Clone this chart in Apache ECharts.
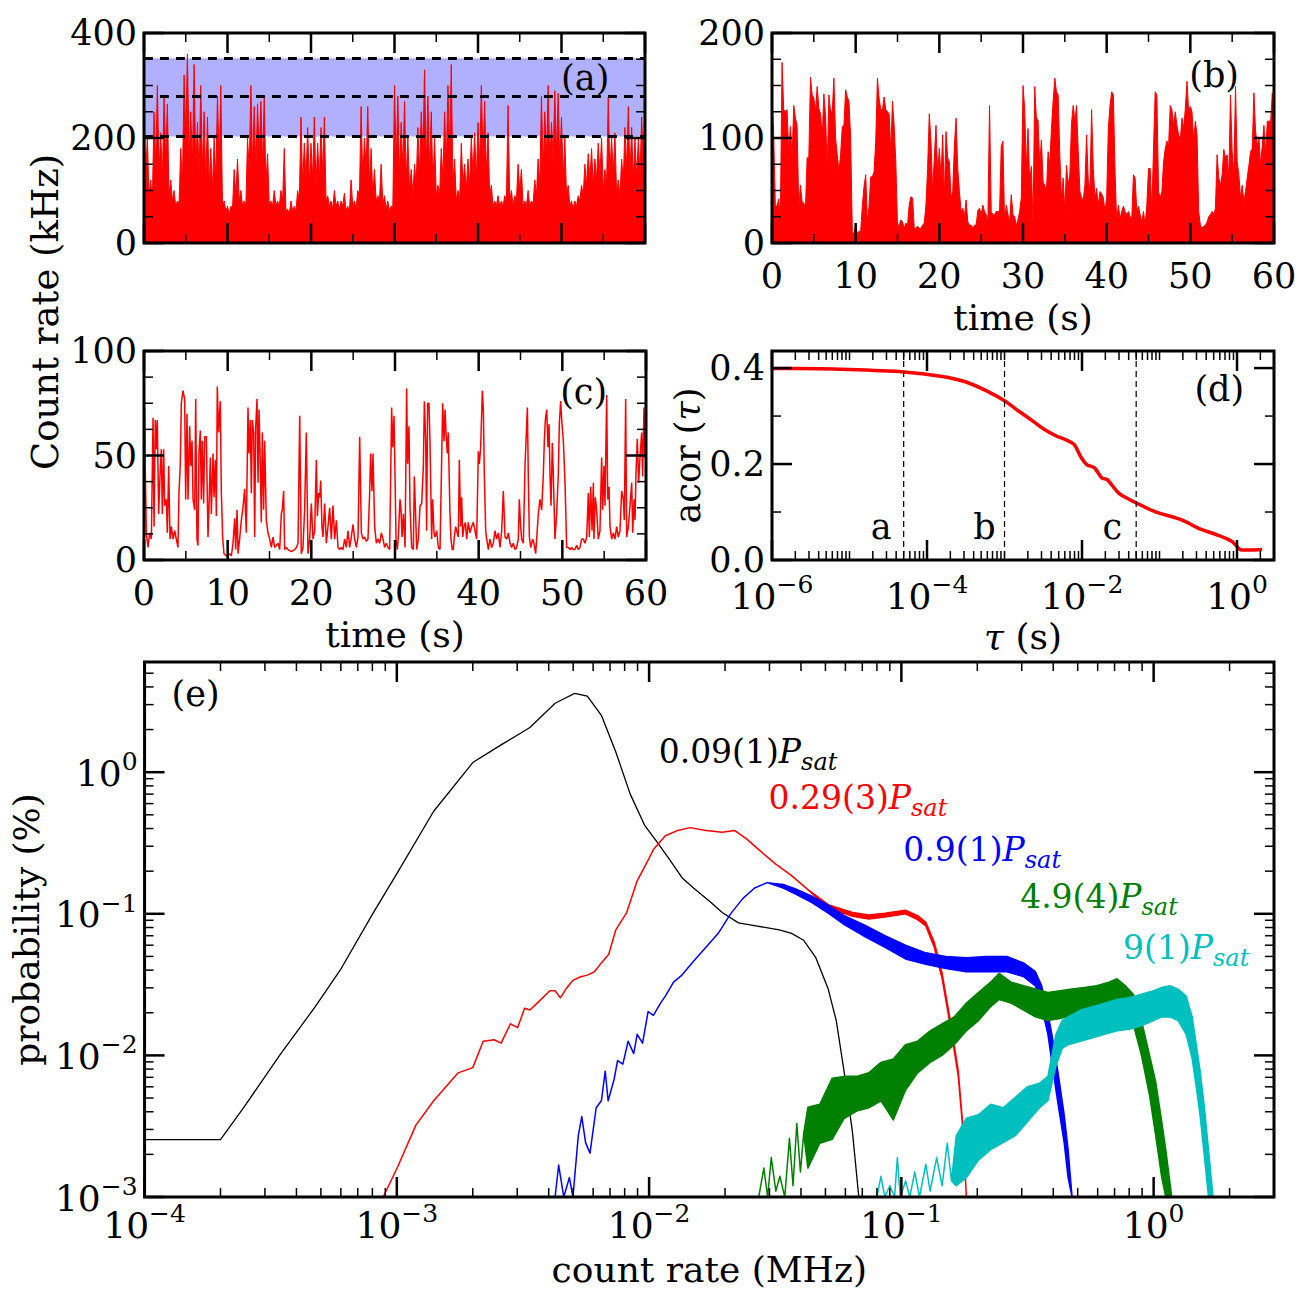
<!DOCTYPE html>
<html><head><meta charset="utf-8">
<script src="https://cdn.jsdelivr.net/npm/echarts@6/dist/echarts.min.js"></script>
<style>html,body{margin:0;padding:0;background:#fff}#c{width:1300px;height:1300px}</style>
</head><body><div id="c"></div>
<script>
const FONT = 'DejaVu Serif';

// ---------- panel (a): count rate; peaks every 0.4 s, troughs in between ----------
const aStep = 0.4;
const aRate = [
280,200,120,250,300,210,280,265,120,100,
80,180,320,360,250,340,230,300,250,240,
180,200,280,300,80,70,70,140,160,100,
80,200,300,260,265,270,280,170,80,100,
80,100,180,65,80,70,100,240,190,220,
190,240,190,220,240,90,80,100,80,80,
95,70,120,80,100,260,200,260,180,140,
90,150,90,80,70,300,280,230,270,200,
140,150,220,250,330,280,250,200,110,180,
250,300,340,160,100,190,150,160,200,210,
230,300,270,210,110,80,90,80,90,262,
100,90,150,140,80,100,80,120,160,280,
250,300,230,290,285,240,200,110,80,80,
90,110,150,170,180,160,190,200,140,278,
200,210,120,160,220,260,220,200,200,240,
270];
const aTrough = [
130,90,80,150,140,120,160,90,80,70,
75,110,200,160,150,140,130,140,120,110,
100,120,150,70,60,55,65,90,80,70,
70,140,150,140,160,150,110,70,70,70,
70,80,60,55,60,60,80,110,120,110,
120,110,120,130,80,70,65,70,65,70,
60,60,70,65,90,120,140,110,90,80,
80,75,65,60,70,150,130,140,120,100,
90,110,130,170,150,140,110,90,90,120,
150,170,110,80,80,110,100,110,130,120,
150,160,130,90,70,70,70,70,80,80,
70,80,100,70,70,70,75,90,110,140,
160,150,160,170,150,120,90,70,65,70,
80,90,110,120,110,120,130,100,110,130,
130,90,90,120,140,130,120,120,130,150];
const aBand = [203, 352];
const aLevels = [203, 280, 352];

// ---------- panel (b): count rate, 0.2 s steps ----------
const bStep = 0.2;
const bRate = [
138,103,36,35,42,23,172,127,125,127,
87,111,81,131,119,112,33,55,39,38,
33,81,82,158,141,138,125,149,128,123,
100,142,122,68,141,125,125,157,100,84,
68,84,111,112,146,139,135,100,11,8,
17,9,11,11,36,54,65,20,35,63,
63,68,97,157,138,127,127,139,127,125,
123,87,135,112,77,17,17,22,20,14,
19,17,36,44,43,14,14,16,14,14,
17,19,36,71,123,97,49,81,112,65,
90,62,103,43,106,81,77,43,49,93,
119,71,49,30,33,25,41,20,17,17,
14,17,17,31,33,27,36,30,27,20,
131,30,27,27,30,30,30,92,97,20,
36,27,20,46,27,25,17,22,30,43,
150,128,71,109,58,73,17,149,119,117,
74,98,58,55,49,87,74,109,135,157,
144,141,84,43,62,30,74,55,65,114,
131,116,131,87,49,43,41,55,103,60,
49,127,71,43,52,36,49,47,43,30,
43,109,131,144,141,68,20,36,23,30,
35,30,27,30,25,23,65,62,30,35,
27,20,30,17,36,71,71,30,90,144,
141,49,43,49,77,90,97,93,131,127,
112,125,112,103,98,119,109,128,154,125,
130,125,97,116,103,30,17,14,16,17,
20,25,27,30,27,33,84,62,55,65,
89,81,84,62,141,87,65,149,77,65,
43,55,39,49,62,74,87,90,143,106,
93,100,74,93,112,84,116,116,116,143,
116];

// ---------- panel (c): [time s, rate kHz] ----------
const cTrace = [
[0.08,73],[0.16,41],[0.28,13],[0.48,6],[0.68,13],[0.88,10],[1.08,68],[1.2,16],[1.35,67],[1.47,53],[1.59,67],[1.75,22],[1.91,40],[2.07,53],[2.19,22],[2.35,53],[2.47,26],[2.67,29],[2.79,13],[2.95,45],[3.11,10],[3.27,16],[3.47,10],[3.67,14],[3.86,10],[4.06,6],[4.18,32],[4.34,46],[4.46,75],[4.66,81],[4.86,77],[4.98,29],[5.14,70],[5.26,29],[5.46,64],[5.58,45],[5.74,57],[5.86,29],[6.06,24],[6.18,77],[6.33,10],[6.45,7],[6.57,51],[6.73,62],[6.85,29],[6.97,57],[7.13,27],[7.25,59],[7.45,59],[7.65,11],[7.77,26],[7.93,49],[8.05,22],[8.25,51],[8.37,30],[8.53,48],[8.65,21],[8.76,83],[8.92,61],[9.12,76],[9.24,33],[9.4,11],[9.56,3],[9.84,2],[10.04,2],[10.24,3],[10.44,2],[10.64,8],[10.84,20],[10.96,5],[11.12,24],[11.24,3],[11.43,10],[11.63,19],[11.83,25],[12.03,34],[12.23,13],[12.43,73],[12.55,51],[12.71,67],[12.83,32],[12.95,67],[13.11,61],[13.23,11],[13.35,64],[13.51,77],[13.63,37],[13.75,72],[13.9,46],[14.02,18],[14.14,61],[14.3,24],[14.42,57],[14.62,19],[14.82,13],[15.02,10],[15.22,6],[15.42,11],[15.62,6],[16.02,8],[16.22,5],[16.41,22],[16.53,24],[16.69,33],[16.81,5],[17.01,6],[17.21,5],[17.61,4],[18.01,5],[18.21,6],[18.41,8],[18.61,69],[18.8,3],[19.0,6],[19.2,24],[19.4,61],[19.6,3],[19.8,10],[20.0,27],[20.2,10],[20.4,14],[20.6,48],[20.72,21],[20.88,32],[21.0,30],[21.12,38],[21.27,16],[21.39,11],[21.59,27],[21.79,8],[21.99,16],[22.19,25],[22.39,10],[22.59,26],[22.79,10],[22.99,19],[23.19,6],[23.39,5],[23.59,6],[23.78,5],[23.98,10],[24.18,6],[24.38,14],[24.58,6],[24.78,11],[24.98,17],[25.18,10],[25.38,6],[25.58,11],[25.78,59],[25.98,13],[26.18,10],[26.37,11],[26.57,9],[26.77,10],[26.97,32],[27.09,51],[27.25,33],[27.37,51],[27.57,16],[27.77,8],[27.97,10],[28.17,8],[28.37,13],[28.57,10],[28.76,6],[28.96,8],[29.16,6],[29.36,5],
[29.6,73],[29.72,54],[29.88,69],[30.0,41],[30.12,10],[30.28,5],[30.4,11],[30.6,29],[30.72,24],[30.84,11],[31.0,22],[31.2,6],[31.39,82],[31.51,46],[31.67,64],[31.79,26],[31.99,6],[32.19,5],[32.31,40],[32.47,21],[32.59,5],[32.79,10],[32.99,26],[33.19,27],[33.39,45],[33.51,76],[33.67,57],[33.78,14],[33.9,75],[34.06,75],[34.18,57],[34.38,10],[34.5,29],[34.66,13],[34.78,11],[34.98,14],[35.18,6],[35.38,5],[35.58,49],[35.7,75],[35.86,57],[35.98,72],[36.1,61],[36.25,51],[36.37,61],[36.57,22],[36.69,10],[36.85,5],[36.97,5],[37.09,11],[37.25,16],[37.37,14],[37.57,11],[37.69,48],[37.85,16],[37.97,30],[38.09,11],[38.25,16],[38.41,18],[38.57,10],[38.76,18],[38.96,13],[39.16,16],[39.36,18],[39.56,14],[39.76,10],[39.96,52],[40.08,46],[40.24,54],[40.44,81],[40.56,72],[40.68,40],[40.84,14],[40.96,10],[41.16,5],[41.35,10],[41.55,6],[41.75,8],[41.95,14],[42.15,10],[42.35,13],[42.55,6],[42.75,14],[42.95,33],[43.15,11],[43.35,10],[43.55,13],[43.75,8],[43.94,6],[44.14,8],[44.34,5],[44.54,6],[44.74,10],[44.86,29],[45.02,16],[45.14,10],[45.34,8],[45.54,45],[45.66,57],[45.82,73],[45.94,38],[46.06,11],[46.22,6],[46.45,10],[46.61,8],[46.81,3],[46.93,10],[47.13,22],[47.33,29],[47.53,24],[47.73,41],[47.85,57],[47.97,67],[48.13,72],[48.29,54],[48.41,65],[48.53,40],[48.65,26],[48.8,56],[48.92,41],[49.12,10],[49.32,22],[49.52,41],[49.64,65],[49.8,76],[49.96,65],[50.12,57],[50.32,37],[50.52,6],[50.72,6],[50.92,5],[51.12,6],[51.31,5],[51.51,5],[51.71,7],[51.91,5],[52.11,6],[52.31,10],[52.51,10],[52.71,8],[52.91,11],[53.11,32],[53.23,11],[53.39,35],[53.55,14],[53.71,37],[53.78,10],[53.94,30],[54.1,24],[54.3,10],[54.5,14],[54.7,49],[54.82,24],[54.98,45],[55.1,26],[55.3,79],[55.42,29],[55.58,35],[55.7,16],[55.9,10],[56.1,13],[56.29,10],[56.49,16],[56.69,11],[56.89,14],[57.09,33],[57.29,29],[57.41,19],[57.57,77],[57.69,11],[57.89,16],[58.09,26],[58.29,37],[58.41,13],[58.57,29],[58.69,19],[58.8,41],[58.96,58],[59.12,37],[59.28,49],[59.48,61],[59.6,40],[59.76,73],[59.88,49]];

// ---------- panel (d): autocorrelation ----------
const dTau  = [1e-6,1.9e-6,9.8e-6,5e-5,1.5e-4,3.2e-4,6.3e-4,1e-3,1.5e-3,2.3e-3,3.2e-3,4.6e-3,6.3e-3,7.9e-3,9.8e-3,1.15e-2,1.45e-2,1.8e-2,2.1e-2,2.95e-2,4.1e-2,5e-2,8.7e-2,0.19,0.32,0.56,0.87,1.15,1.5,2.1];
const dAcor = [0.399,0.399,0.397,0.392,0.383,0.371,0.350,0.332,0.311,0.290,0.273,0.259,0.250,0.241,0.213,0.199,0.192,0.171,0.168,0.140,0.126,0.119,0.101,0.084,0.066,0.052,0.038,0.021,0.021,0.022];
const dMarks = [5e-5, 1e-3, 5e-2];
const dMarkNames = ['a','b','c'];
const dMarkLabelPos = [[2.6e-5,0.067],[5.6e-4,0.067],[2.5e-2,0.067]];

// ---------- panel (e): histograms [MHz, upper %, (lower %)] ----------
const eBlack = [[1e-4,0.00254],[2.0e-4,0.00254],[2.47e-4,0.00427],[3.43e-4,0.0100],[4.75e-4,0.0221],[5.97e-4,0.0401],[8.01e-4,0.0995],[1.007e-3,0.196],[1.40e-3,0.530],[2.0e-3,1.17],[2.59e-3,1.56],[3.37e-3,2.07],[4.24e-3,3.07],[5.07e-3,3.60],[5.69e-3,3.44],[6.47e-3,2.52],[7.38e-3,1.39],[8.41e-3,0.703],[9.59e-3,0.423],[0.0108,0.318],[0.0121,0.239],[0.0135,0.180],[0.0150,0.152],[0.0175,0.121],[0.0195,0.102],[0.0226,0.0863],[0.0272,0.0815],[0.0328,0.0771],[0.0367,0.0728],[0.0410,0.0650],[0.0458,0.0490],[0.0513,0.0294],[0.0552,0.0176],[0.0594,0.00753],[0.0640,0.00287],[0.0678,0.001]];
const eRed = [[8.83e-4,0.001],[1.007e-3,0.00163],[1.19e-3,0.00322],[1.40e-3,0.00478],[1.75e-3,0.00753],[2.0e-3,0.0082],[2.20e-3,0.0126],[2.43e-3,0.0129],[2.59e-3,0.0122],[2.82e-3,0.0167],[3.01e-3,0.0157],[3.21e-3,0.0215],[3.37e-3,0.0209],[3.60e-3,0.0234],[4.04e-3,0.0286],[4.24e-3,0.0286],[4.45e-3,0.0255],[4.68e-3,0.0294],[4.99e-3,0.0339],[5.32e-3,0.0358],[5.69e-3,0.0369],[6.07e-3,0.0390],[6.47e-3,0.0450],[6.92e-3,0.0518],[7.38e-3,0.0771],[8.15e-3,0.102],[8.97e-3,0.171],[9.91e-3,0.239],[0.0104,0.284],[0.0116,0.356],[0.0130,0.388],[0.0145,0.406],[0.0168,0.388],[0.0195,0.377],[0.0218,0.388],[0.0244,0.337],[0.0272,0.284],[0.0316,0.226],[0.0367,0.186],[0.0426,0.148],[0.0513,0.116,0.110],[0.0640,0.102,0.096],[0.0743,0.098,0.092],[0.0861,0.101,0.095],[0.1038,0.106,0.100],[0.1160,0.097,0.091],[0.125,0.087,0.082],[0.135,0.063,0.058],[0.145,0.038,0.035],[0.156,0.018,0.0165],[0.168,0.0078,0.0072],[0.175,0.0033,0.0031],[0.181,0.001,0.001]];
const eBlue = [[4.24e-3,0.001],[4.38e-3,0.00168],[4.59e-3,0.001],[4.83e-3,0.00137],[4.99e-3,0.001],[5.24e-3,0.00271],[5.41e-3,0.0037],[5.60e-3,0.00242],[5.83e-3,0.00204],[6.17e-3,0.00427],[6.47e-3,0.00478],[6.70e-3,0.00774],[6.88e-3,0.00478],[7.26e-3,0.00673],[7.50e-3,0.0092],[7.87e-3,0.00868],[8.26e-3,0.0126],[8.69e-3,0.0103],[8.97e-3,0.0141],[9.42e-3,0.0122],[9.91e-3,0.0204],[0.0104,0.0192],[0.0111,0.0234],[0.0116,0.0262],[0.0125,0.0329],[0.0135,0.0369],[0.0150,0.0462],[0.0168,0.058],[0.0188,0.0728],[0.0210,0.0995],[0.0235,0.128],[0.0262,0.152],[0.0294,0.166],[0.0340,0.161,0.152],[0.0381,0.150,0.138],[0.0442,0.133,0.120],[0.0513,0.115,0.101],[0.0594,0.097,0.084],[0.0716,0.083,0.069],[0.0861,0.070,0.058],[0.1038,0.060,0.048],[0.125,0.053,0.044],[0.150,0.050,0.041],[0.181,0.049,0.039],[0.218,0.050,0.039],[0.262,0.050,0.039],[0.305,0.045,0.036],[0.340,0.039,0.031],[0.360,0.031,0.022],[0.381,0.0198,0.0141],[0.395,0.0141,0.00893],[0.418,0.00753,0.00452],[0.442,0.00381,0.00242],[0.458,0.00216,0.00137],[0.475,0.001,0.001]];
const eGreen = [[0.0272,0.001],[0.0285,0.0016],[0.0295,0.001],[0.0305,0.0019],[0.0318,0.0011],[0.033,0.0014],[0.0345,0.001],[0.036,0.0026],[0.0372,0.0012],[0.0385,0.0033],[0.0398,0.0015],[0.041,0.0028],[0.0426,0.0043,0.0016],[0.0475,0.00452,0.0024],[0.0532,0.00691,0.00256],[0.0594,0.00711,0.0036],[0.0665,0.00711,0.00404],[0.0743,0.00753,0.00427],[0.0830,0.00893,0.00478],[0.0929,0.00945,0.0035],[0.1038,0.0119,0.00567],[0.1160,0.0126,0.00753],[0.130,0.0149,0.00893],[0.145,0.0167,0.0100],[0.162,0.0187,0.0119],[0.181,0.0234,0.0149],[0.202,0.0278,0.0176],[0.226,0.0329,0.0221],[0.244,0.0379,0.0248],[0.272,0.0329,0.0234],[0.305,0.0311,0.0209],[0.340,0.0294,0.0187],[0.381,0.0278,0.0176],[0.426,0.0286,0.0182],[0.475,0.0294,0.0192],[0.532,0.0302,0.0198],[0.594,0.0311,0.0209],[0.665,0.0329,0.0221],[0.716,0.0348,0.0228],[0.771,0.0311,0.0209],[0.830,0.0270,0.0167],[0.895,0.0176,0.0100],[0.964,0.0100,0.0052],[1.019,0.0065,0.00271],[1.077,0.0034,0.00137],[1.117,0.00216,0.001],[1.18,0.001,0.001]];
const eCyan = [[0.0800,0.001],[0.083,0.0014],[0.086,0.001],[0.09,0.0012],[0.094,0.001],[0.0964,0.0019],[0.099,0.001],[0.104,0.0013],[0.108,0.001],[0.113,0.0015],[0.118,0.001],[0.125,0.0017],[0.13,0.0011],[0.138,0.0019],[0.145,0.0012],[0.152,0.0024],[0.158,0.0013],[0.165,0.0027,0.0012],[0.181,0.0036,0.00137],[0.202,0.00381,0.00182],[0.226,0.00452,0.00216],[0.253,0.00427,0.00242],[0.283,0.00506,0.00271],[0.316,0.0060,0.0034],[0.353,0.00635,0.00427],[0.381,0.00711,0.00478],[0.395,0.0100,0.00635],[0.410,0.0141,0.00844],[0.434,0.0176,0.0112],[0.458,0.0187,0.0119],[0.513,0.0209,0.0126],[0.573,0.0221,0.0133],[0.640,0.0234,0.0141],[0.716,0.0248,0.0149],[0.800,0.0255,0.0153],[0.895,0.0270,0.0162],[1.0,0.0286,0.0176],[1.077,0.0302,0.0187],[1.160,0.0311,0.0187],[1.250,0.0294,0.0176],[1.346,0.0262,0.0141],[1.422,0.0187,0.00945],[1.476,0.0119,0.0060],[1.532,0.00753,0.0036],[1.590,0.00427,0.00193],[1.650,0.00216,0.001],[1.72,0.001,0.001]];
const eLabelText = ['0.09(1)','0.29(3)','0.9(1)','4.9(4)','9(1)'];
const eLabelPos = [[0.01096,1.19],[0.0299,0.56],[0.1023,0.241],[0.297,0.112],[0.760,0.0489]];
const eColors = ['#000000','#ff0000','#0000ff','#008000','#00bfbf'];

// panel tags
const tagText = ['(a)','(b)','(c)','(d)','(e)'];
const tagPos = [[52.9,313],[52.9,160],[52.6,80],[0.6,0.356],[1.6e-4,3.53]];

// ticks
const linX = {maj:[0,10,20,30,40,50,60], min:[5,15,25,35,45,55]};
const aY = {maj:[0,200,400], min:[50,100,150,250,300,350]};
const bY = {maj:[0,100,200], min:[25,50,75,125,150,175]};
const cY = {maj:[0,50,100], min:[12.5,25,37.5,62.5,75,87.5]};
const dY = {maj:[0,0.2,0.4], min:[0.1,0.3]};
function logMinor(n0, n1, maxV, majors, ks) {
  const out = [];
  for (let n = n0; n <= n1; n++) for (const k of ks) {
    const v = +(k * Math.pow(10, n)).toPrecision(6);
    if (v <= maxV && !majors.some(m => Math.abs(m - v) / v < 1e-9)) out.push(v);
  }
  return out;
}
const dXmaj = [1e-6,1e-4,1e-2,1];
const dX = {maj:dXmaj, min:logMinor(-6,0,3,dXmaj,[1,2,3,4,5,6,7,8,9])};
const eXmaj = [1e-4,1e-3,1e-2,1e-1,1];
const eX = {maj:eXmaj, min:logMinor(-4,0,3,eXmaj,[2,3,4,5,6,7,8,9])};
const eYmaj = [1e-3,1e-2,1e-1,1];
const eY = {maj:eYmaj, min:logMinor(-3,0,6,eYmaj,[2,3,4,5,6,7,8,9])};

// ---------- helpers ----------
const chart = echarts.init(document.getElementById('c'), null, {renderer:'svg', width:1300, height:1300});
const TXT = {color:'#000', fontFamily:FONT, fontSize:35};
const hid = {axisLine:{show:false}, axisTick:{show:false}, splitLine:{show:false}, minorTick:{show:false}};
const supRich = {
  b:{fontFamily:FONT, fontSize:36, color:'#000', verticalAlign:'bottom', lineHeight:38},
  s:{fontFamily:FONT, fontSize:25, color:'#000', verticalAlign:'bottom', lineHeight:26, padding:[0,0,17,0]}
};
const noBorder = {textBorderWidth:0, textBorderColor:'transparent', textShadowBlur:0, opacity:1};
function powLab(step) {
  return function (v) {
    const l = Math.log10(v), e = Math.round(l);
    if (Math.abs(l - e) > 1e-6) return '';
    if (step === 2 && e % 2 !== 0) return '';
    return '{b|10}{s|' + (e < 0 ? '\u2212' : '') + Math.abs(e) + '}';
  };
}
function tickSeries(gi, X, Y, xRef, yRef) {
  const items = [{k:'f'}];
  X.maj.forEach(v => items.push({k:'x', v, L:20, w:2.5}));
  X.min.forEach(v => items.push({k:'x', v, L:9, w:1.5}));
  Y.maj.forEach(v => items.push({k:'y', v, L:20, w:2.5}));
  Y.min.forEach(v => items.push({k:'y', v, L:9, w:1.5}));
  return {
    type:'custom', xAxisIndex:gi, yAxisIndex:gi, z:20, silent:true, clip:false,
    data: items.map(it => it.k === 'x' ? [it.v, yRef] : it.k === 'y' ? [xRef, it.v] : [xRef, yRef]),
    renderItem(params, api) {
      const it = items[params.dataIndex];
      const cs = params.coordSys;
      if (it.k === 'f') return {type:'rect', shape:{x:cs.x, y:cs.y, width:cs.width, height:cs.height}, style:{stroke:'#000', fill:'none', lineWidth:3}};
      const p = api.coord([api.value(0), api.value(1)]);
      const st = {stroke:'#000', lineWidth:it.w};
      if (it.k === 'x') {
        const x = p[0], b = cs.y + cs.height;
        return {type:'group', children:[
          {type:'line', shape:{x1:x, y1:b, x2:x, y2:b - it.L}, style:st},
          {type:'line', shape:{x1:x, y1:cs.y, x2:x, y2:cs.y + it.L}, style:st}]};
      }
      const y = p[1], r = cs.x + cs.width;
      return {type:'group', children:[
        {type:'line', shape:{x1:cs.x, y1:y, x2:cs.x + it.L, y2:y}, style:st},
        {type:'line', shape:{x1:r, y1:y, x2:r - it.L, y2:y}, style:st}]};
    }
  };
}
function bandSeries(pts, color, lw, z) {
  const up = pts.map(p => [p[0], p[1]]);
  const lo = pts.map(p => [p[0], p.length > 2 ? p[2] : p[1]]);
  return {
    type:'custom', xAxisIndex:4, yAxisIndex:4, z, silent:true, clip:true,
    data: up,
    renderItem(params, api) {
      if (params.dataIndex !== 0) return null;
      const poly = up.map(d => api.coord(d)).concat(lo.slice().reverse().map(d => api.coord(d)));
      return {type:'polygon', shape:{points:poly}, style:{fill:color, stroke:color, lineWidth:lw, lineJoin:'round'}};
    }
  };
}
function tagSeries(gi) {
  return {type:'scatter', xAxisIndex:gi, yAxisIndex:gi, z:30, silent:true, symbolSize:1,
    itemStyle:{color:'#ffffff', opacity:0},
    data:[{value:tagPos[gi], name:tagText[gi]}],
    label:Object.assign({show:true, position:[0,0], formatter:'{b}', color:'#000', fontFamily:FONT, fontSize:35, align:'center', verticalAlign:'middle'}, noBorder)};
}
// interleave peaks and troughs of panel (a)
const aData = [];
aRate.forEach((v, i) => {
  aData.push([+(i*aStep).toFixed(2), v]);
  if (i < aTrough.length) aData.push([+(i*aStep + aStep/2).toFixed(2), aTrough[i]]);
});

const option = {
  animation:false,
  backgroundColor:'#fff',
  textStyle:{fontFamily:FONT},
  grid:[
    {left:144, top:33, width:501, height:210},
    {left:772, top:33, width:502, height:210},
    {left:144, top:351, width:502, height:209},
    {left:772, top:351, width:502, height:209},
    {left:143, top:662, width:1131, height:535}
  ],
  xAxis:[
    Object.assign({gridIndex:0, type:'value', min:0, max:60, interval:10, axisLabel:{show:false}}, hid),
    Object.assign({gridIndex:1, type:'value', min:0, max:60, interval:10, axisLabel:Object.assign({margin:15}, TXT),
      name:'time (s)', nameLocation:'middle', nameGap:56, nameTextStyle:{color:'#000', fontFamily:FONT, fontSize:36}}, hid),
    Object.assign({gridIndex:2, type:'value', min:0, max:60, interval:10, axisLabel:Object.assign({margin:15}, TXT),
      name:'time (s)', nameLocation:'middle', nameGap:56, nameTextStyle:{color:'#000', fontFamily:FONT, fontSize:36}}, hid),
    Object.assign({gridIndex:3, type:'log', logBase:10, min:1e-6, max:3, axisLabel:{margin:16, formatter:powLab(2), rich:supRich},
      name:'{i|\u03c4} (s)', nameLocation:'middle', nameGap:58,
      nameTextStyle:{color:'#000', fontFamily:FONT, fontSize:36, rich:{i:{fontFamily:FONT, fontSize:36, fontStyle:'italic', color:'#000'}}}}, hid),
    Object.assign({gridIndex:4, type:'log', logBase:10, min:1e-4, max:3, axisLabel:{margin:8, formatter:powLab(1), rich:supRich},
      name:'count rate (MHz)', nameLocation:'middle', nameGap:54, nameTextStyle:{color:'#000', fontFamily:FONT, fontSize:36}}, hid)
  ],
  yAxis:[
    Object.assign({gridIndex:0, type:'value', min:0, max:400, interval:200, axisLabel:Object.assign({margin:7, lineHeight:30}, TXT)}, hid),
    Object.assign({gridIndex:1, type:'value', min:0, max:200, interval:100, axisLabel:Object.assign({margin:7, lineHeight:30}, TXT)}, hid),
    Object.assign({gridIndex:2, type:'value', min:0, max:100, interval:50, axisLabel:Object.assign({margin:7, lineHeight:30}, TXT)}, hid),
    Object.assign({gridIndex:3, type:'value', min:0, max:0.4356, interval:0.2,
      axisLabel:Object.assign({margin:7, lineHeight:30, formatter:v => Math.abs(v/0.2 - Math.round(v/0.2)) < 1e-6 ? v.toFixed(1) : ''}, TXT),
      name:'{n|acor (}{i|\u03c4}{n|)}', nameLocation:'middle', nameGap:64,
      nameTextStyle:{rich:{n:{fontFamily:FONT, fontSize:35, color:'#000'}, i:{fontFamily:FONT, fontSize:35, fontStyle:'italic', color:'#000'}}}}, hid),
    Object.assign({gridIndex:4, type:'log', logBase:10, min:1e-3, max:6, axisLabel:{margin:7, formatter:powLab(1), rich:supRich},
      name:'probability (%)', nameLocation:'middle', nameGap:100, nameTextStyle:{color:'#000', fontFamily:FONT, fontSize:36}}, hid)
  ],
  graphic:[
    {type:'text', x:45, y:312, rotation:Math.PI/2, silent:true,
     style:{text:'Count rate (kHz)', fontFamily:FONT, fontSize:37, fill:'#000', align:'center', verticalAlign:'middle'}}
  ],
  series:[
    // (a)
    {type:'line', xAxisIndex:0, yAxisIndex:0, data:[], z:1, silent:true,
     markArea:{silent:true, itemStyle:{color:'#b0b0ff', opacity:1}, data:[[{yAxis:aBand[0]},{yAxis:aBand[1]}]]}},
    {type:'line', xAxisIndex:0, yAxisIndex:0, z:2, silent:true, symbol:'none',
     data:aData, lineStyle:{color:'#ff0000', width:1}, areaStyle:{color:'#ff0000', opacity:1}},
    {type:'line', xAxisIndex:0, yAxisIndex:0, data:[], z:3, silent:true,
     markLine:{silent:true, symbol:['none','none'], label:{show:false},
       lineStyle:{color:'#000', width:3, type:[9,7]}, data:aLevels.map(v => ({yAxis:v}))}},
    tickSeries(0, linX, aY, 30, 100),
    tagSeries(0),
    // (b)
    {type:'line', xAxisIndex:1, yAxisIndex:1, z:2, silent:true, symbol:'none',
     data:bRate.map((v,i) => [+(i*bStep).toFixed(2), v]),
     lineStyle:{color:'#ff0000', width:1}, areaStyle:{color:'#ff0000', opacity:1}},
    tickSeries(1, linX, bY, 30, 100),
    tagSeries(1),
    // (c)
    {type:'line', xAxisIndex:2, yAxisIndex:2, z:2, silent:true, symbol:'none',
     data:cTrace, lineStyle:{color:'#ff0000', width:1.5}},
    tickSeries(2, linX, cY, 30, 50),
    tagSeries(2),
    // (d)
    {type:'line', xAxisIndex:3, yAxisIndex:3, z:2, silent:true, symbol:'none', smooth:0.3,
     data:dTau.map((t,i) => [t, dAcor[i]]), lineStyle:{color:'#ff0000', width:3.5}},
    {type:'custom', xAxisIndex:3, yAxisIndex:3, z:3, silent:true, clip:false,
     data:dMarks.map(v => [v, 0.2]),
     renderItem(params, api) {
       const cs = params.coordSys;
       const x = api.coord([api.value(0), api.value(1)])[0];
       return {type:'line', shape:{x1:x, y1:cs.y, x2:x, y2:cs.y + cs.height},
               style:{stroke:'#000', lineWidth:1.2, lineDash:[6,4]}};
     }},
    {type:'scatter', xAxisIndex:3, yAxisIndex:3, z:30, silent:true, symbolSize:1, itemStyle:{color:'#ffffff', opacity:0},
     data:dMarkLabelPos.map((p,i) => ({value:p, name:dMarkNames[i]})),
     label:Object.assign({show:true, position:[0,0], formatter:'{b}', color:'#000', fontFamily:FONT, fontSize:35, align:'center', verticalAlign:'middle'}, noBorder)},
    tickSeries(3, dX, dY, 1e-3, 0.2),
    tagSeries(3),
    // (e)
    bandSeries(eBlack, eColors[0], 1.3, 5),
    bandSeries(eRed, eColors[1], 1.5, 6),
    bandSeries(eBlue, eColors[2], 1.5, 7),
    bandSeries(eGreen, eColors[3], 1.5, 8),
    bandSeries(eCyan, eColors[4], 1.5, 9),
    {type:'scatter', xAxisIndex:4, yAxisIndex:4, z:30, silent:true, symbolSize:1, itemStyle:{color:'#ffffff', opacity:0},
     data:eLabelPos.map((p,i) => ({value:p, name:eLabelText[i],
       label:{color:eColors[i], rich:{
         n:{fontFamily:FONT, fontSize:33, color:eColors[i], verticalAlign:'bottom', lineHeight:26, padding:[0,0,6,0]},
         p:{fontFamily:FONT, fontSize:33, fontStyle:'italic', color:eColors[i], verticalAlign:'bottom', lineHeight:26, padding:[0,0,6,0]},
         s:{fontFamily:FONT, fontSize:24, fontStyle:'italic', color:eColors[i], verticalAlign:'bottom', lineHeight:20}}}})),
     label:Object.assign({show:true, position:[0,0], align:'left', verticalAlign:'middle',
       formatter:p => '{n|' + p.name + '}{p|P}{s|sat}'}, noBorder)},
    tickSeries(4, eX, eY, 0.01, 0.01),
    tagSeries(4)
  ]
};
chart.setOption(option);
</script>
</body></html>
